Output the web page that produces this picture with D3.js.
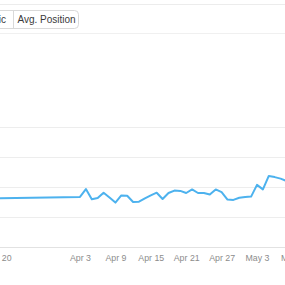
<!DOCTYPE html>
<html><head><meta charset="utf-8">
<script src="https://cdn.jsdelivr.net/npm/d3@7"></script>
<style>body{margin:0;background:#fff;} svg{display:block;font-family:"Liberation Sans",Arial,sans-serif;}</style>
</head><body>
<svg id="c" width="285" height="285"></svg>
<script>
const dates = ["2019-03-19","2019-04-03","2019-04-04","2019-04-05","2019-04-06","2019-04-07","2019-04-08","2019-04-09","2019-04-10","2019-04-11","2019-04-12","2019-04-13","2019-04-14","2019-04-15","2019-04-16","2019-04-17","2019-04-18","2019-04-19","2019-04-20","2019-04-21","2019-04-22","2019-04-23","2019-04-24","2019-04-25","2019-04-26","2019-04-27","2019-04-28","2019-04-29","2019-04-30","2019-05-01","2019-05-02","2019-05-03","2019-05-04","2019-05-05","2019-05-06","2019-05-07","2019-05-08"];
const values = [16.2,16.7,19.3,15.9,16.3,18.1,16.5,14.8,17.2,17.1,15.0,15.1,16.2,17.2,18.1,16.0,18.0,18.8,18.7,18.0,19.2,18.0,18.0,17.5,19.2,18.3,15.8,15.7,16.4,16.7,16.8,20.7,19.2,23.7,23.3,22.8,22.0];
const tickDates = ["2019-03-20","2019-04-03","2019-04-09","2019-04-15","2019-04-21","2019-04-27","2019-05-03","2019-05-09"];
const yTicks = [0,10,20,30,40];
const buttonLabels = ["Traffic","Avg. Position"];

const parse = d3.utcParse("%Y-%m-%d");
const data = dates.map((d,i)=>({date:parse(d), v:values[i]}));
const svg = d3.select("#c");

// top chrome
svg.append("line").attr("x1",0).attr("x2",285).attr("y1",4.5).attr("y2",4.5).attr("stroke","#ececec");
svg.append("line").attr("x1",0).attr("x2",285).attr("y1",33.5).attr("y2",33.5).attr("stroke","#f0f0f0");
svg.append("rect").attr("x",-70.5).attr("y",10.5).attr("width",149).attr("height",18).attr("rx",4)
  .attr("fill","#fff").attr("stroke","#d9d9d9");
svg.append("line").attr("x1",13.5).attr("x2",13.5).attr("y1",10.5).attr("y2",28.5).attr("stroke","#d9d9d9");
svg.append("text").attr("x",6).attr("y",23).attr("text-anchor","end").attr("font-size",10).attr("fill","#3a3a3a").text(buttonLabels[0]);
svg.append("text").attr("x",17.5).attr("y",23).attr("font-size",10).attr("fill","#3a3a3a").text(buttonLabels[1]);

const x = d3.scaleUtc().domain([parse("2019-04-03"), parse("2019-05-03")]).range([80,257]);
const y = d3.scaleLinear().domain([0,40]).range([247,127]);

// gridlines
const grid = svg.append("g")
  .call(d3.axisLeft(y).tickValues(yTicks).tickSize(-400).tickFormat(""));
grid.select(".domain").remove();
grid.selectAll(".tick line").attr("stroke",(d)=>d===0?"#e2e2e2":"#ededed").attr("stroke-width",1);

// x axis labels
const xa = svg.append("g").attr("transform","translate(0,252)")
  .call(d3.axisBottom(x).tickValues(tickDates.map(parse)).tickSize(0).tickFormat(d3.utcFormat("%b %-d")));
xa.select(".domain").remove();
xa.selectAll("text").attr("font-size",8.8).attr("fill","#8c8c8c").attr("font-family","Liberation Sans, Arial, sans-serif");

// line
svg.append("path").datum(data)
  .attr("d", d3.line().x(d=>x(d.date)).y(d=>y(d.v)))
  .attr("fill","none").attr("stroke","#4db2ee").attr("stroke-width",2).attr("stroke-linejoin","round");
</script>
</body></html>
